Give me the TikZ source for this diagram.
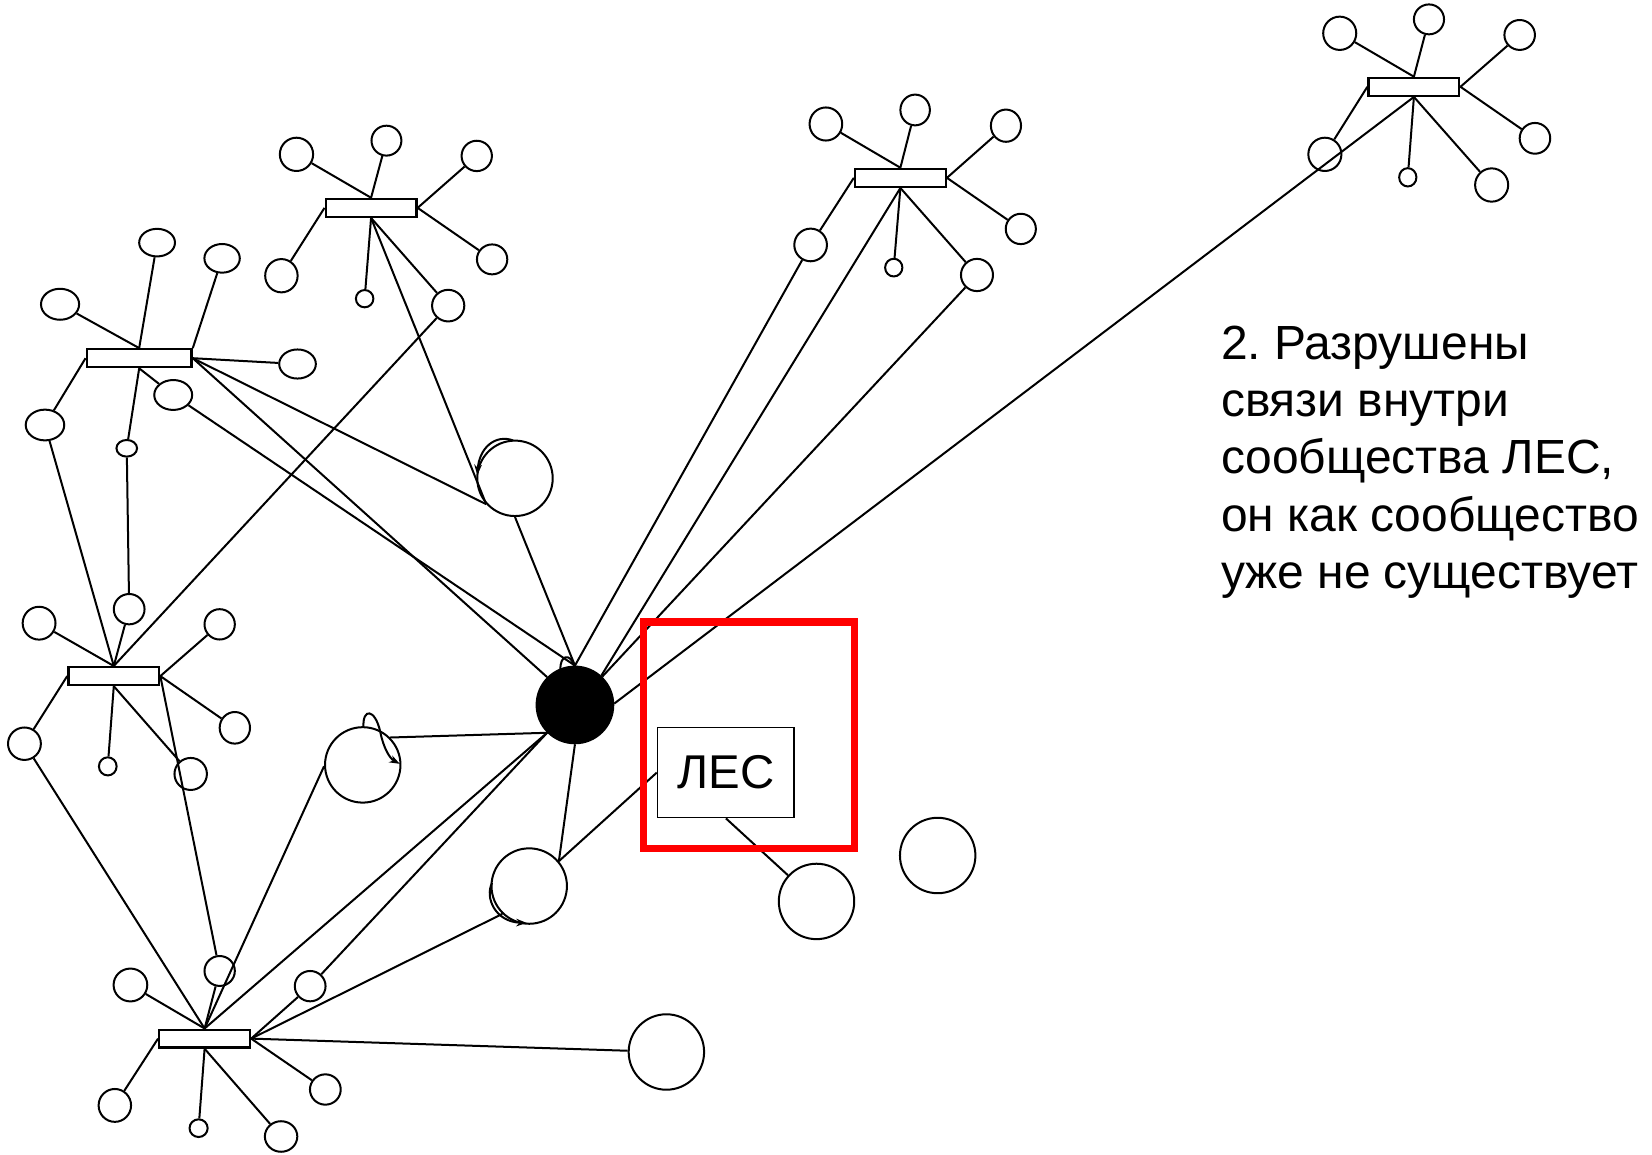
\documentclass[tikz,border=0pt]{standalone}
\usepackage{fontspec}
\setmainfont{Liberation Sans}
\usetikzlibrary{arrows.meta,shapes.geometric}
\frenchspacing
\begin{document}
\begin{tikzpicture}[x=0.5pt,y=-0.5pt,line width=0.95pt,
  hub/.style={draw,rectangle,inner sep=0pt,minimum width=43.1pt,minimum height=8.5pt,line width=1.1pt,fill=white},
  sat/.style 2 args={draw,ellipse,inner sep=0pt,minimum width=#1pt,minimum height=#2pt},
  big/.style={draw,circle,inner sep=0pt,minimum size=35.8pt},
  blackdot/.style={draw,circle,fill=black,inner sep=0pt,minimum size=36.4pt},
  lesbox/.style={draw,rectangle,inner sep=0pt,minimum width=64.85pt,minimum height=42.7pt,line width=0.75pt,font=\fontsize{22.5pt}{26pt}\selectfont},
  redbox/.style={draw=red,line width=3.5pt},
  loopar/.style={-{Stealth[length=5pt,width=3.6pt]}},
  note/.style={anchor=base west,inner sep=0pt,font=\fontsize{22.75pt}{27.2pt}\selectfont}]
\useasboundingbox (0,0) rectangle (1568,1096);

% hubs
\node[hub] (hA) at (352.2,197.3) {};
\node[hub,minimum width=49.8pt] (hB) at (132.1,340) {};
\node[hub] (hC) at (108,641.7) {};
\node[hub] (hD) at (194.2,985.8) {};
\node[hub] (hE) at (854.6,168.8) {};
\node[hub] (hF) at (1342,82.4) {};

% cluster A
\node[sat={15.8}{15.8}] (aUL) at (281.4,146.5) {};
\node[sat={14.2}{14.2}] (aU) at (366.8,133.5) {};
\node[sat={14.4}{14.4}] (aUR) at (452.5,148) {};
\node[sat={14.4}{14.2}] (aR) at (467.1,246.2) {};
\node[sat={15.3}{15}] (aLR) at (425.4,290.1) {};
\node[sat={8.3}{8.2}] (aS) at (346.1,283.5) {};
\node[sat={15.4}{15.8}] (aLL) at (267.1,261.7) {};

% cluster B
\node[sat={18.1}{14.7}] (bUL) at (57,288.8) {};
\node[sat={17}{13.1}] (bU) at (149.1,230.3) {};
\node[sat={16.8}{13.6}] (bUR) at (210.8,245.2) {};
\node[sat={17.4}{13.8}] (bR) at (282.4,345.5) {};
\node[sat={18}{14.2}] (bLR) at (164.4,374.9) {};
\node[sat={9.8}{7.9}] (bS) at (120.3,425.5) {};
\node[sat={18.3}{14.6}] (bLL) at (42.7,403.4) {};

% cluster C
\node[sat={15.6}{15.6}] (cUL) at (37.1,591.5) {};
\node[sat={14.6}{14.4}] (cU) at (122.6,578.2) {};
\node[sat={14.4}{14.4}] (cUR) at (208.5,592.6) {};
\node[sat={14.4}{15}] (cR) at (222.9,690.8) {};
\node[sat={15.4}{15.2}] (cLR) at (181,734.6) {};
\node[sat={8.4}{8.6}] (cS) at (102.3,727.4) {};
\node[sat={15.6}{15.4}] (cLL) at (23.2,705.9) {};

% cluster D
\node[sat={16}{15.6}] (dUL) at (123.8,934.9) {};
\node[sat={14.4}{14.2}] (dU) at (208.5,921.6) {};
\node[sat={14.6}{14.4}] (dUR) at (294.4,936) {};
\node[sat={14.6}{14.4}] (dR) at (308.8,1034.1) {};
\node[sat={15.4}{14.5}] (dLR) at (266.8,1078.7) {};
\node[sat={8.6}{8.4}] (dS) at (188.5,1070.8) {};
\node[sat={15.4}{15.6}] (dLL) at (109,1049.2) {};

% cluster E
\node[sat={15.5}{15.7}] (eUL) at (783.9,117.7) {};
\node[sat={14}{14.6}] (eU) at (868.6,104.4) {};
\node[sat={14.3}{15.3}] (eUR) at (954.8,119.3) {};
\node[sat={14.3}{14.4}] (eR) at (968.9,217.3) {};
\node[sat={15.2}{15.3}] (eLR) at (927.3,261) {};
\node[sat={8.2}{8.4}] (eS) at (848.3,254) {};
\node[sat={15.5}{15.5}] (eLL) at (769.4,232.5) {};

% cluster F
\node[sat={15.7}{15.8}] (fUL) at (1271.6,31.6) {};
\node[sat={14.3}{14.2}] (fU) at (1356.3,18.4) {};
\node[sat={14.5}{14.2}] (fUR) at (1442.4,33.2) {};
\node[sat={14.5}{14.6}] (fR) at (1456.9,131.3) {};
\node[sat={15.7}{15.8}] (fLR) at (1415.8,175.6) {};
\node[sat={8.2}{8.7}] (fS) at (1336.2,168.3) {};
\node[sat={15.7}{15.8}] (fLL) at (1257.5,146.5) {};

% big circles
\node[big] (C1) at (488.8,454) {};
\node[big] (C2) at (344.3,726) {};
\node[big] (C3) at (502.3,841) {};
\node[big] (C4) at (775,855.6) {};
\node[big] (C5) at (632.5,998.5) {};
\node[big] (C6) at (890,812) {};
\node[blackdot] (blk) at (545.7,669.1) {};
\node[lesbox] (les) at (689,733.3) {ЛЕС};

% star links
\foreach \h/\p in {hA/a,hC/c,hD/d,hE/e,hF/f}{
  \draw (\h.north) -- (\p UL);
  \draw (\h.north) -- (\p U);
  \draw (\h.east) -- (\p UR);
  \draw (\h.east) -- (\p R);
  \draw (\h.south) -- (\p LR);
  \draw (\h.south) -- (\p S);
  \draw (\h.west) -- (\p LL);
}
\draw (hB.north) -- (bUL);
\draw (hB.north) -- (bU);
\draw (hB.north east) -- (bUR);
\draw (hB.east) -- (bR);
\draw (hB.south) -- (bLR);
\draw (hB.south) -- (bS);
\draw (hB.west) -- (bLL);

% long links
\draw (hA.south) -- (C1.222);
\draw (hB.east) -- (C1.222);
\draw (hB.east) -- (blk.135);
\draw (bLR) -- (blk.north);
\draw (bS) -- (cU);
\draw (bLL) -- (hC.north);
\draw (aLR) -- (hC.north);
\draw (hC.east) -- (dU);
\draw (cLL) -- (hD.north);
\draw (hD.north) -- (C2.182);
\draw (hD.north) -- (blk.225);
\draw (dUR) -- (blk.225);
\draw (hD.east) -- (C3.226);
\draw (hD.east) -- (C5);
\draw (C1.south) -- (blk.north);
\draw (C2.45) -- (blk.225);
\draw (blk.south) -- (C3.40);
\draw (C3.40) -- (les.west);
\draw (les.south) -- (C4);
\draw (blk.north) -- (eLL);
\draw (blk.48) -- (hE.south);
\draw (blk.46) -- (eLR);
\draw (blk.2) -- (hF.south);

% self loops
\draw[loopar] (487,418) .. controls (470,412) and (455,425) .. (453,451);
\draw[loopar] (345,690) .. controls (344,672) and (356,672) .. (361,695) .. controls (364,710) and (370,720) .. (379.5,725);
\draw[loopar] (467,838) .. controls (460,852) and (470,875) .. (500,876);
\draw (532,636) .. controls (531,622) and (541,619) .. (545,632);

% red frame
\node[redbox,rectangle,inner sep=0pt,minimum width=100.15pt,minimum height=107.45pt] (frame) at (711.15,697.95) {};

% note
\node[note] (t1) at (1158,341) {2. Разрушены};
\node[note] (t2) at (1158,395.4) {связи внутри};
\node[note] (t3) at (1158,449.8) {сообщества ЛЕС,};
\node[note] (t4) at (1158,504.2) {он как сообщество};
\node[note] (t5) at (1158,558.6) {уже не существует};
\end{tikzpicture}
\end{document}
